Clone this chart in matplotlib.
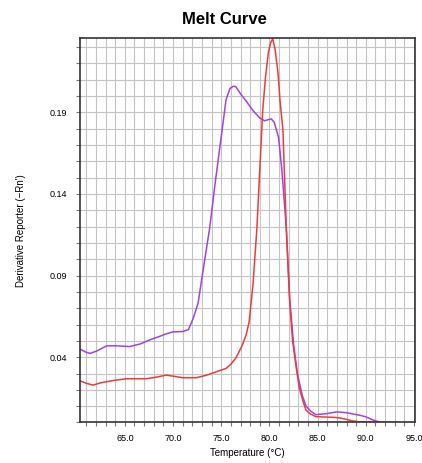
import numpy as np
import matplotlib
matplotlib.use("Agg")
import matplotlib.pyplot as plt
from matplotlib.ticker import MultipleLocator, FixedLocator

# Melt curve data (temperature in °C, derivative reporter -Rn')
temp_red = [60.4, 61.0, 61.7, 62.5, 63.8, 65.2, 67.2, 68.3, 69.3, 70.2, 71.0, 72.4,
            73.5, 74.5, 75.5, 76.0, 76.5, 77.2, 77.6, 77.9, 78.3, 78.7, 79.0, 79.3,
            79.6, 79.9, 80.15, 80.35, 80.6, 80.9, 81.1, 81.4, 81.75, 82.1, 82.4, 82.8,
            83.1, 83.5, 83.8, 84.2, 84.8, 85.5, 86.5, 87.3, 87.9, 88.6, 89.3, 90.5,
            92.0, 93.5]
deriv_red = [0.0254, 0.0240, 0.0229, 0.0243, 0.0257, 0.0268, 0.0268, 0.0278, 0.0290,
             0.0282, 0.0274, 0.0274, 0.0290, 0.0311, 0.0331, 0.0357, 0.0393, 0.0475,
             0.0540, 0.0618, 0.0850, 0.1190, 0.1550, 0.1910, 0.2120, 0.2270, 0.2330,
             0.2350, 0.2280, 0.2136, 0.1970, 0.1790, 0.1190, 0.0740, 0.0500, 0.0330,
             0.0210, 0.0127, 0.0075, 0.0054, 0.0036, 0.0034, 0.0032, 0.0028, 0.0020,
             0.0010, 0.0004, 0.0002, 0.0000, -0.0001]

temp_purple = [60.4, 61.0, 61.4, 62.1, 63.1, 64.1, 65.5, 66.6, 67.6, 68.5, 69.3, 70.0,
               71.0, 71.6, 72.1, 72.6, 73.1, 73.8, 74.4, 75.0, 75.5, 75.9, 76.2, 76.5,
               77.0, 77.6, 78.3, 79.0, 79.5, 79.9, 80.2, 80.5, 80.95, 81.3, 81.75, 82.1,
               82.5, 82.9, 83.4, 83.8, 84.3, 84.8, 85.9, 87.0, 88.0, 89.3, 90.0, 90.7,
               91.4, 92.5, 93.5]
deriv_purple = [0.0448, 0.0430, 0.0423, 0.0438, 0.0469, 0.0470, 0.0465, 0.0481, 0.0506,
                0.0525, 0.0543, 0.0555, 0.0557, 0.0569, 0.0639, 0.0731, 0.0925, 0.1190,
                0.1480, 0.1750, 0.1977, 0.2045, 0.2058, 0.2058, 0.2013, 0.1967, 0.1910,
                0.1865, 0.1848, 0.1855, 0.1859, 0.1838, 0.1746, 0.1540, 0.1190, 0.0760,
                0.0480, 0.0300, 0.0167, 0.0100, 0.0069, 0.0048, 0.0054, 0.0065, 0.0060,
                0.0045, 0.0035, 0.0016, 0.0003, 0.0000, -0.0001]

y_labels = [0.04, 0.09, 0.14, 0.19]

plt.rcParams['font.family'] = ['Liberation Sans', 'DejaVu Sans']

fig = plt.figure(figsize=(4.22, 4.63), dpi=100)
ax = fig.add_axes([0.1896, 0.0875, 0.7938, 0.8305])

ax.plot(temp_purple, deriv_purple, color='#a040f0', lw=1.1)
ax.plot(temp_red, deriv_red, color='#f03a3a', lw=1.1)

ax.set_xlim(60.35, 95.1)
ax.set_ylim(0.0, 0.2355)

ax.set_xticks(np.arange(65, 96, 5))
ax.set_xticklabels([f"{v:.1f}" for v in np.arange(65, 96, 5)])
ax.xaxis.set_minor_locator(MultipleLocator(1))
ax.yaxis.set_major_locator(FixedLocator(y_labels))
ax.set_yticklabels([f"{v:.2f}" for v in y_labels])
ax.yaxis.set_minor_locator(MultipleLocator(0.01))

ax.grid(True, which='both', color='#c4c4c4', lw=0.8)
ax.set_axisbelow(True)
ax.tick_params(which='both', direction='out', length=3, width=0.8, color='#777777',
               labelsize=6.5, pad=6)
ax.tick_params(axis='x', pad=5)
for s in ax.spines.values():
    s.set_color('#333333')
    s.set_linewidth(1.2)

ax.set_xlabel('Temperature (°C)', fontsize=7, labelpad=4)
ax.set_ylabel("Derivative Reporter (\u2212Rn')", fontsize=7, labelpad=17)
fig.text(0.533, 0.958, 'Melt Curve', ha='center', va='center', fontsize=12,
         fontweight='bold')

fig.savefig('out.png', dpi=100)
